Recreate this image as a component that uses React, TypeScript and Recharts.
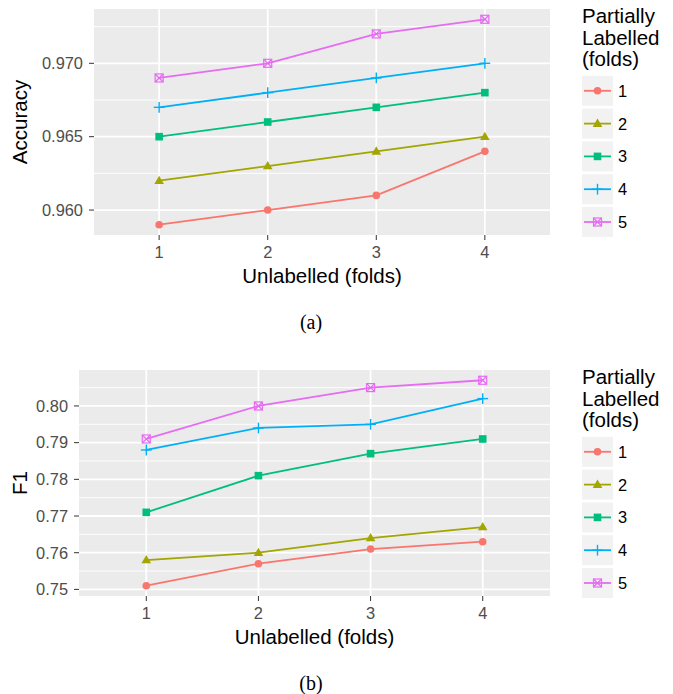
import { LineChart, Line, XAxis, YAxis, CartesianGrid } from 'recharts';

// x axis: number of unlabelled folds
const unlabelledFolds = [1, 2, 3, 4];
// legend: number of partially labelled folds
const partialFolds = ['1', '2', '3', '4', '5'];

// panel (a) accuracy, one array per partially labelled fold count
const accuracy1 = [0.959, 0.96, 0.961, 0.964];
const accuracy2 = [0.962, 0.963, 0.964, 0.965];
const accuracy3 = [0.965, 0.966, 0.967, 0.968];
const accuracy4 = [0.967, 0.968, 0.969, 0.97];
const accuracy5 = [0.969, 0.97, 0.972, 0.973];

// panel (b) F1
const f1Score1 = [0.751, 0.757, 0.761, 0.763];
const f1Score2 = [0.758, 0.76, 0.764, 0.767];
const f1Score3 = [0.771, 0.781, 0.787, 0.791];
const f1Score4 = [0.788, 0.794, 0.795, 0.802];
const f1Score5 = [0.791, 0.8, 0.805, 0.807];

const accuracyTicks = [0.96, 0.965, 0.97];
const accuracyMinorTicks = [0.9625, 0.9675, 0.9725];
const f1Ticks = [0.75, 0.76, 0.77, 0.78, 0.79, 0.8];
const f1MinorTicks = [0.755, 0.765, 0.775, 0.785, 0.795, 0.805];

const colors = ['#F8766D', '#A3A500', '#00BF7D', '#00B0F6', '#E76BF3'];
const shapes = ['circle', 'triangle', 'square', 'plus', 'squareCross'];

const W = 673;
const H = 361;

// ggplot style 5% expansion of the data range
const expand = (series: number[][]): [number, number] => {
    const all = series.flat();
    const lo = Math.min(...all);
    const hi = Math.max(...all);
    const pad = (hi - lo) * 0.05;
    return [lo - pad, hi + pad];
};

function Marker({ shape, cx, cy, color }: { shape: string; cx: number; cy: number; color: string }) {
    switch (shape) {
        case 'circle':
            return <circle cx={cx} cy={cy} r={3.8} fill={color} />;
        case 'triangle':
            return (
                <path
                    d={`M${cx},${cy - 5} L${cx + 4.8},${cy + 3.3} L${cx - 4.8},${cy + 3.3} Z`}
                    fill={color}
                />
            );
        case 'square':
            return <rect x={cx - 3.8} y={cy - 3.8} width={7.6} height={7.6} fill={color} />;
        case 'plus':
            return (
                <g stroke={color} strokeWidth={1.4}>
                    <line x1={cx - 5.4} y1={cy} x2={cx + 5.4} y2={cy} />
                    <line x1={cx} y1={cy - 5.4} x2={cx} y2={cy + 5.4} />
                </g>
            );
        default:
            return (
                <g stroke={color} strokeWidth={1.2} fill="none">
                    <rect x={cx - 4} y={cy - 4} width={8} height={8} />
                    <line x1={cx - 4} y1={cy - 4} x2={cx + 4} y2={cy + 4} />
                    <line x1={cx - 4} y1={cy + 4} x2={cx + 4} y2={cy - 4} />
                </g>
            );
    }
}

function LegendAndCaption({ caption }: { caption: string }) {
    const keyTop = 90.8;
    const pitch = 32.8;
    return (
        <svg
            width={W}
            height={H}
            style={{ position: 'absolute', left: 0, top: 0, pointerEvents: 'none' }}
        >
            <g fontSize={20.5} fill="#000000">
                <text x={582} y={23}>Partially</text>
                <text x={582} y={44.5}>Labelled</text>
                <text x={582} y={66}>(folds)</text>
            </g>
            {partialFolds.map((name, i) => {
                const cy = keyTop + i * pitch;
                return (
                    <g key={name}>
                        <rect x={582} y={cy - 15} width={31} height={30} fill="#F2F2F2" />
                        <line x1={584} y1={cy} x2={611} y2={cy} stroke={colors[i]} strokeWidth={1.8} />
                        <Marker shape={shapes[i]} cx={597.5} cy={cy} color={colors[i]} />
                        <text x={618} y={cy + 6} fontSize={16.4} fill="#000000">
                            {name}
                        </text>
                    </g>
                );
            })}
            <text
                x={311}
                y={329}
                textAnchor="middle"
                fontSize={20}
                fontFamily="'Liberation Serif', 'Times New Roman', serif"
                fill="#000000"
            >
                {caption}
            </text>
        </svg>
    );
}

interface PanelProps {
    top: number;
    series: number[][];
    yLabel: string;
    ticks: number[];
    minorTicks: number[];
    digits: number;
    plotLeft: number;
    caption: string;
}

function Panel({ top, series, yLabel, ticks, minorTicks, digits, plotLeft, caption }: PanelProps) {
    const rows = unlabelledFolds.map((x, i) => {
        const row: Record<string, number> = { x };
        series.forEach((vals, s) => {
            row[`s${s}`] = vals[i];
        });
        return row;
    });
    const yAxisWidth = 60;

    return (
        <div style={{ position: 'absolute', left: 0, top, width: W, height: H }}>
            <LineChart
                width={W}
                height={H}
                data={rows}
                margin={{ top: 9, right: 123, bottom: 66, left: plotLeft - yAxisWidth }}
            >
                <CartesianGrid
                    fill="#EBEBEB"
                    fillOpacity={1}
                    stroke="#FFFFFF"
                    strokeWidth={0.9}
                    vertical={false}
                    horizontalValues={minorTicks}
                />
                <CartesianGrid
                    stroke="#FFFFFF"
                    strokeWidth={1.8}
                    verticalValues={unlabelledFolds}
                    horizontalValues={ticks}
                />
                <XAxis
                    type="number"
                    dataKey="x"
                    domain={[0.4, 4.6]}
                    ticks={unlabelledFolds}
                    interval={0}
                    allowDataOverflow
                    height={60}
                    axisLine={false}
                    tickLine={{ stroke: '#333333', strokeWidth: 1 }}
                    tickSize={5}
                    tickMargin={6}
                    tick={{ fill: '#4D4D4D', fontSize: 16.4 }}
                    label={{
                        content: (p: any) => (
                            <text
                                x={p.viewBox.x + p.viewBox.width / 2}
                                y={p.viewBox.y + 48}
                                textAnchor="middle"
                                fontSize={20.5}
                                fill="#000000"
                            >
                                Unlabelled (folds)
                            </text>
                        ),
                    }}
                />
                <YAxis
                    type="number"
                    domain={expand(series)}
                    ticks={ticks}
                    interval={0}
                    allowDataOverflow
                    width={yAxisWidth}
                    axisLine={false}
                    tickLine={{ stroke: '#333333', strokeWidth: 1 }}
                    tickSize={5}
                    tickMargin={6}
                    tick={{ fill: '#4D4D4D', fontSize: 16.4 }}
                    tickFormatter={(v: number) => v.toFixed(digits)}
                    label={{
                        content: (p: any) => {
                            const cy = p.viewBox.y + p.viewBox.height / 2;
                            return (
                                <text
                                    x={27}
                                    y={cy}
                                    transform={`rotate(-90, 27, ${cy})`}
                                    textAnchor="middle"
                                    fontSize={20.5}
                                    fill="#000000"
                                >
                                    {yLabel}
                                </text>
                            );
                        },
                    }}
                />
                {series.map((_, i) => (
                    <Line
                        key={partialFolds[i]}
                        type="linear"
                        dataKey={`s${i}`}
                        name={partialFolds[i]}
                        stroke={colors[i]}
                        strokeWidth={1.8}
                        dot={(p: any) => (
                            <Marker
                                key={`m${i}-${p.index}`}
                                shape={shapes[i]}
                                cx={p.cx}
                                cy={p.cy}
                                color={colors[i]}
                            />
                        )}
                        activeDot={false}
                        isAnimationActive={false}
                    />
                ))}
            </LineChart>
            <LegendAndCaption caption={caption} />
        </div>
    );
}

export default function App() {
    return (
        <div
            style={{
                position: 'absolute',
                left: 0,
                top: 0,
                width: W,
                height: 694,
                background: '#FFFFFF',
                fontFamily: "'Liberation Sans', Arial, Helvetica, sans-serif",
            }}
        >
            <Panel
                top={0}
                series={[accuracy1, accuracy2, accuracy3, accuracy4, accuracy5]}
                yLabel="Accuracy"
                ticks={accuracyTicks}
                minorTicks={accuracyMinorTicks}
                digits={3}
                plotLeft={94}
                caption="(a)"
            />
            <Panel
                top={361}
                series={[f1Score1, f1Score2, f1Score3, f1Score4, f1Score5]}
                yLabel="F1"
                ticks={f1Ticks}
                minorTicks={f1MinorTicks}
                digits={2}
                plotLeft={79}
                caption="(b)"
            />
        </div>
    );
}
